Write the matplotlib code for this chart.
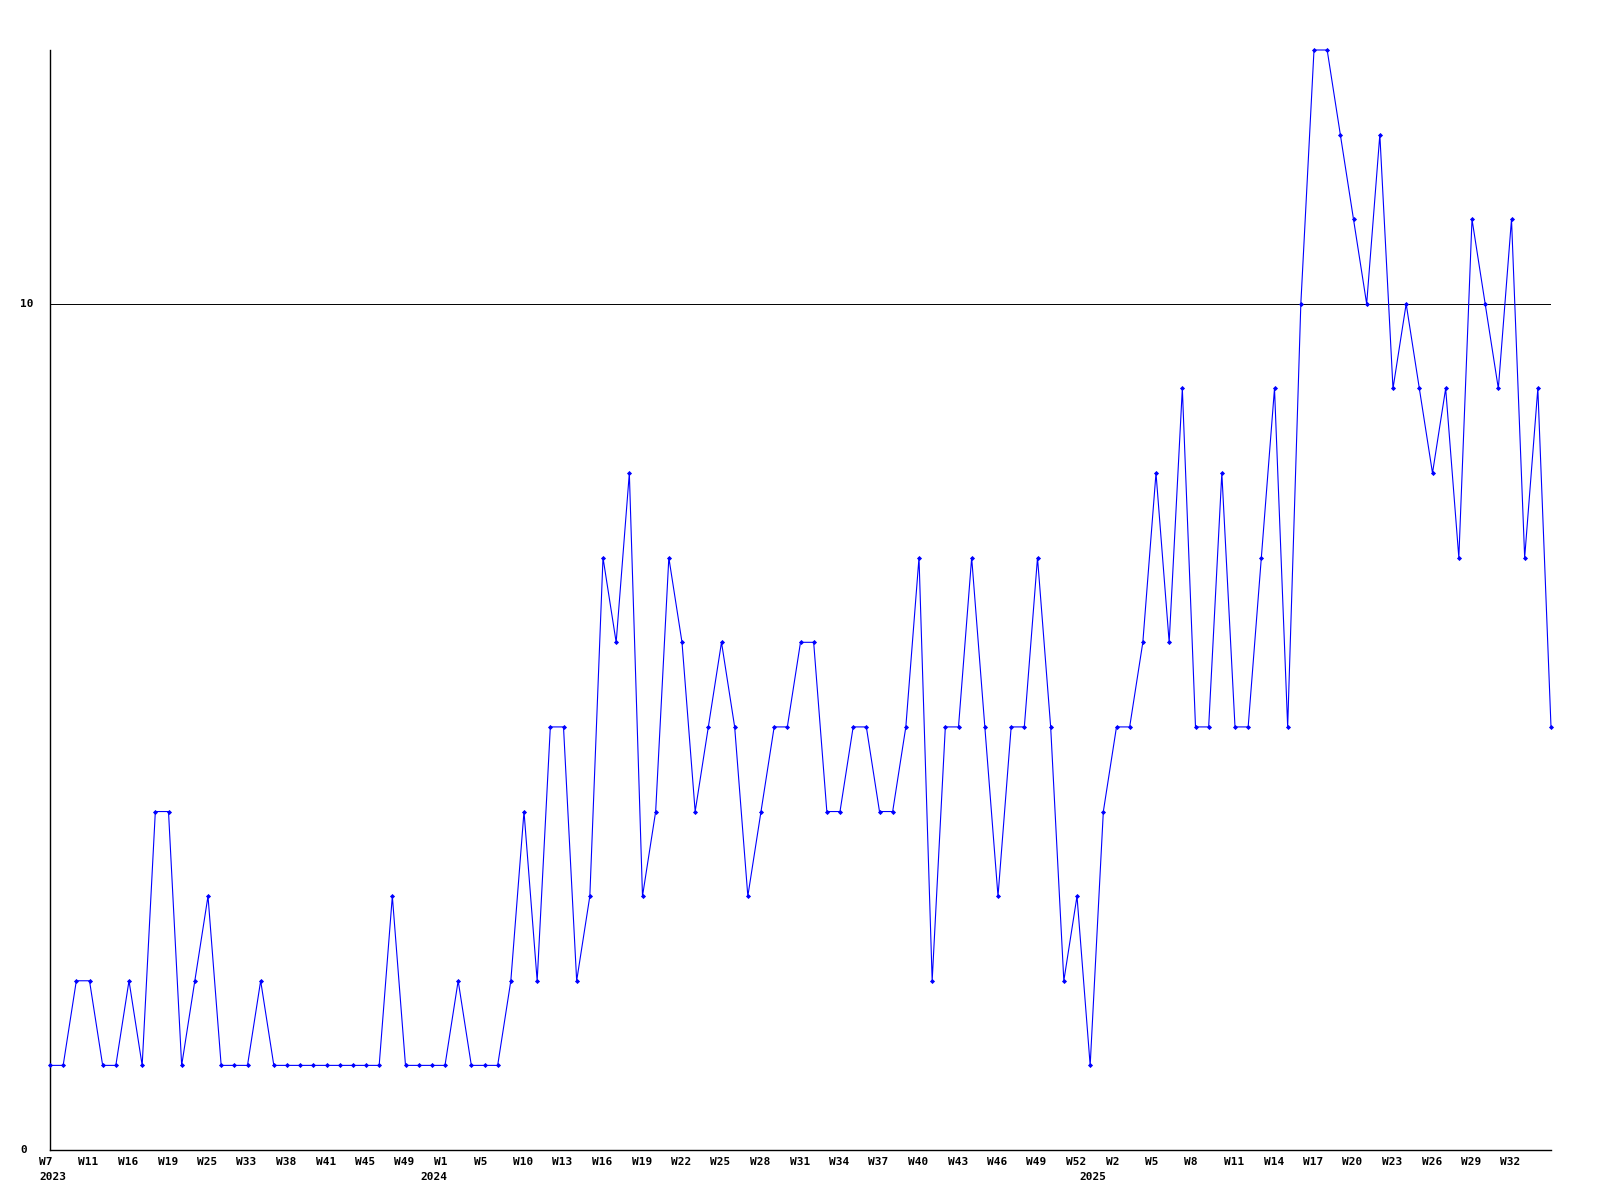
import matplotlib
matplotlib.use('Agg')
import matplotlib.pyplot as plt
import matplotlib.transforms as mtransforms

# weekly counts, one value per data row (weeks with no row are skipped)
values = [
    1, 1, 2, 2, 1, 1, 2, 1, 4, 4,
    1, 2, 3, 1, 1, 1, 2, 1, 1, 1,
    1, 1, 1, 1, 1, 1, 3, 1, 1, 1,
    1, 2, 1, 1, 1, 2, 4, 2, 5, 5,
    2, 3, 7, 6, 8, 3, 4, 7, 6, 4,
    5, 6, 5, 3, 4, 5, 5, 6, 6, 4,
    4, 5, 5, 4, 4, 5, 7, 2, 5, 5,
    7, 5, 3, 5, 5, 7, 5, 2, 3, 1,
    4, 5, 5, 6, 8, 6, 9, 5, 5, 8,
    5, 5, 7, 9, 5, 10, 13, 13, 12, 11,
    10, 12, 9, 10, 9, 8, 9, 7, 11, 10,
    9, 11, 7, 9, 5,
]

# labels shown on every third row
week_labels = [
    'W7', 'W11', 'W16', 'W19', 'W25', 'W33', 'W38', 'W41', 'W45', 'W49',
    'W1', 'W5', 'W10', 'W13', 'W16', 'W19', 'W22', 'W25', 'W28', 'W31',
    'W34', 'W37', 'W40', 'W43', 'W46', 'W49', 'W52', 'W2', 'W5', 'W8',
    'W11', 'W14', 'W17', 'W20', 'W23', 'W26', 'W29', 'W32',
]
label_step = 3

# first row of each year
year_rows = [0, 29, 79]
year_labels = ['2023', '2024', '2025']

y_labels = [0, 10]

W, H = 1600, 1200
fig = plt.figure(figsize=(W / 100, H / 100), dpi=100)
ax = fig.add_axes([50 / W, 50 / H, 1501 / W, 1100 / H])

x = list(range(len(values)))
ax.plot(x, values, color='#0000ff', lw=0.8, marker='D', ms=2.6, mew=0,
        clip_on=False, zorder=3)
ax.axhline(10, color='black', lw=0.7, zorder=2)

ax.set_xlim(0, len(values) - 1)
ax.set_ylim(0, 13)
for side in ['top', 'right']:
    ax.spines[side].set_visible(False)
for side in ['left', 'bottom']:
    ax.spines[side].set_linewidth(1.0)
    ax.spines[side].set_color('black')
ax.set_xticks([])
ax.set_yticks([])

font = dict(family='DejaVu Sans Mono', fontweight='bold', fontsize=8)

shift = mtransforms.ScaledTranslation(-11 / 100, 0, fig.dpi_scale_trans)
xtrans = mtransforms.blended_transform_factory(ax.transData, fig.transFigure) + shift

for k, lab in enumerate(week_labels):
    fig.text(k * label_step, 1 - 1162 / H, lab, transform=xtrans,
             ha='left', va='center', **font)

for row, lab in zip(year_rows, year_labels):
    fig.text(row, 1 - 1177 / H, lab, transform=xtrans,
             ha='left', va='center', **font)

ytrans = mtransforms.blended_transform_factory(fig.transFigure, ax.transData)
for v in y_labels:
    fig.text(20 / W, v, str(v), transform=ytrans, ha='left', va='center', **font)

fig.savefig('out.png', dpi=100)
